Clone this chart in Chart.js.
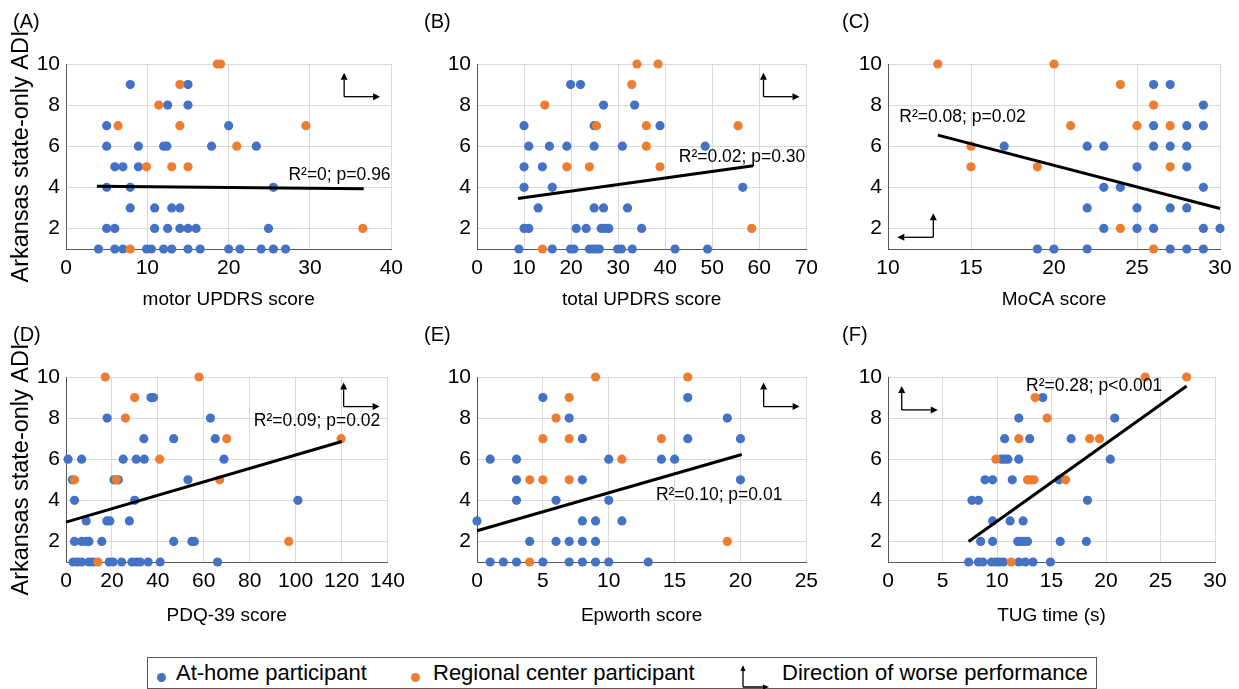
<!DOCTYPE html>
<html>
<head>
<meta charset="utf-8">
<title>ADI vs clinical scores</title>
<script src="https://cdn.jsdelivr.net/npm/chart.js@4.4.1/dist/chart.umd.min.js"></script>
<style>
  body { margin: 0; background: #fff; font-family: "Liberation Sans", Arial, sans-serif; }
  #wrap { position: relative; width: 1239px; height: 689px; overflow: hidden; }
  canvas { position: absolute; }
  .tag { position: absolute; font-size: 20px; line-height: 20px; color: #000; }
  #legend { position: absolute; left: 147px; top: 657px; width: 950px; height: 32px; box-sizing: border-box;
            border: 1px solid #595959; font-size: 22px; color: #000; }
  #legend span { position: absolute; white-space: nowrap; }
  #legend .dot { width: 9px; height: 9px; border-radius: 50%; }
</style>
</head>
<body>
<div id="wrap">
  <canvas id="chartA"></canvas>
  <canvas id="chartB"></canvas>
  <canvas id="chartC"></canvas>
  <canvas id="chartD"></canvas>
  <canvas id="chartE"></canvas>
  <canvas id="chartF"></canvas>
  <div class="tag" style="left:13px; top:11px">(A)</div>
  <div class="tag" style="left:424px; top:11px">(B)</div>
  <div class="tag" style="left:842px; top:11px">(C)</div>
  <div class="tag" style="left:13px; top:324px">(D)</div>
  <div class="tag" style="left:424px; top:324px">(E)</div>
  <div class="tag" style="left:842px; top:324px">(F)</div>
  <div id="legend">
    <span class="dot" style="left:9px; top:15px; background:#4472C4"></span>
    <span style="left:28px; top:2px">At-home participant</span>
    <span class="dot" style="left:263px; top:15px; background:#ED7D31"></span>
    <span style="left:285px; top:2px">Regional center participant</span>
    <span style="left:592px; top:6px">
      <svg width="32" height="26" viewBox="0 0 32 26">
        <path d="M3 23 V6 M3 23 H24" stroke="#000" stroke-width="1.3" fill="none"/>
        <path d="M3 1 L0.5 7 L5.5 7 Z M29 23 L23 20.5 L23 25.5 Z" fill="#000"/>
      </svg>
    </span>
    <span style="left:634px; top:2px">Direction of worse performance</span>
  </div>
</div>

<script>
const BLUE = "#4472C4";
const ORANGE = "#ED7D31";
const FONT = '"Liberation Sans", Arial, sans-serif';

// each row: [ADI value, score, score, ...]
const motorHome = [[9, 7.9, 15], [8, 12.5, 15], [7, 5, 20], [6, 5, 8.9, 12, 12.4, 17.9, 23.4], [5, 6, 7, 8.9],
  [4, 5, 7.9, 25.5], [3, 7.9, 10.9, 13, 14], [2, 5, 6, 10.9, 12.5, 14, 15, 16, 24.9],
  [1, 4, 6, 7, 9.9, 10.5, 12, 13, 15, 16.5, 20, 21.4, 24, 25.5, 27]];
const motorCenter = [[10, 18.6, 19], [9, 14], [8, 11.4], [7, 6.4, 14, 29.5], [6, 21], [5, 9.9, 13, 15], [2, 36.5], [1, 7.9]];
const motorTrend = [[3.8, 4.05], [36.6, 3.93]];

const totalHome = [[9, 19.9, 22], [8, 26.9, 33.5], [7, 10, 24.9, 38.9], [6, 11, 15.4, 19.1, 24.9, 30.9, 48.5],
  [5, 10, 13.9], [4, 10, 16, 56.5], [3, 13, 24.9, 26.9, 32], [2, 10, 11, 21.1, 23.2, 26.4, 27.2, 28, 35],
  [1, 8.9, 16, 19.9, 20.6, 23.9, 24.6, 25.4, 26, 29.9, 30.7, 33, 42.1, 49]];
const totalCenter = [[10, 34, 38.5], [9, 32.9], [8, 14.4], [7, 25.4, 36, 55.5], [6, 36], [5, 19.1, 23.9, 38.9], [2, 58.4], [1, 13.9]];
const totalTrend = [[8.7, 3.46], [58.7, 5.05]];

const mocaHome = [[9, 26, 27], [8, 29], [7, 26, 28, 29], [6, 17, 22, 23, 26, 27, 28], [5, 25, 28], [4, 23, 24, 29],
  [3, 22, 25, 27, 28], [2, 23, 25, 26, 29, 30], [1, 19, 20, 22, 27, 28, 29]];
const mocaCenter = [[10, 13, 20], [9, 24], [8, 26], [7, 21, 25, 27], [6, 15], [5, 15, 19, 27], [2, 24], [1, 26]];
const mocaTrend = [[13, 6.54], [30, 2.97]];

const pdqHome = [[9, 37, 38.1], [8, 17.9, 62.9], [7, 33.9, 46.9, 65], [6, 0.9, 6.8, 24.9, 30.6, 34.1, 68.8],
  [5, 2.8, 20.9, 22.8, 53.1], [4, 3.7, 29.9, 101], [3, 8.8, 17.8, 19.1, 27.6],
  [2, 3.7, 6.8, 8.8, 10, 15.6, 46.9, 54.8, 55.9],
  [1, 3.1, 5, 6.8, 10, 11.7, 18.8, 20.5, 24.2, 28.7, 30.6, 32.3, 35.8, 41, 66]];
const pdqCenter = [[10, 17.1, 57.9], [9, 29.9], [8, 25.9], [7, 70, 119.8], [6, 40.8], [5, 3.7, 21.9, 66.9], [2, 97], [1, 13.9]];
const pdqTrend = [[0, 2.94], [120.1, 6.86]];

const epworthHome = [[9, 5, 16], [8, 7, 19], [7, 8, 16, 20], [6, 1, 3, 10, 14, 15], [5, 3, 8, 20], [4, 3, 6, 10],
  [3, 0, 8, 9, 11], [2, 4, 6, 7, 8, 9], [1, 1, 2, 3, 5, 7, 8, 9, 10, 13]];
const epworthCenter = [[10, 9, 16], [9, 7], [8, 6], [7, 5, 7, 14], [6, 11], [5, 4, 5, 7], [2, 19], [1, 4]];
const epworthTrend = [[0, 2.52], [20.1, 6.23]];

const tugHome = [[9, 14.2], [8, 12, 20.8], [7, 10.7, 13, 16.8], [6, 10.4, 10.7, 11, 12, 20.4], [5, 8.9, 9.6, 11.4, 15.7],
  [4, 7.7, 8.3, 18.3], [3, 9.6, 11.2, 12.4], [2, 8.5, 9.6, 11.9, 12.2, 12.5, 12.8, 15.8, 18.2],
  [1, 7.4, 8.3, 8.7, 9.5, 9.9, 10.2, 10.6, 12, 12.6, 13.3, 14.9]];
const tugCenter = [[10, 23.6, 27.4], [9, 13.5], [8, 14.6], [7, 12, 18.5, 19.4], [6, 9.9], [5, 12.8, 13.1, 13.4, 16.3], [1, 11.3]];
const tugTrend = [[7.4, 2.0], [27.4, 9.56]];

const adiTicks = [2, 4, 6, 8, 10];
const yTitle = "Arkansas state-only ADI";

const panels = [
  { id: "chartA", home: motorHome, center: motorCenter, trend: motorTrend, xTitle: "motor UPDRS score",
    xMin: 0, xMax: 40, step: 10, note: "R²=0; p=0.96", at: [27.35, 4.6], corner: [34.2, 8.41], dir: 1,
    box: [0, 0, 410, 320], area: [66, 64, 397, 249], titleY: 300, showY: true },
  { id: "chartB", home: totalHome, center: totalCenter, trend: totalTrend, xTitle: "total UPDRS score",
    xMin: 0, xMax: 70, step: 10, note: "R²=0.02; p=0.30", at: [42.9, 5.48], corner: [60.9, 8.41], dir: 1,
    box: [410, 0, 415, 320], area: [477, 64, 809, 249], titleY: 300, showY: false },
  { id: "chartC", home: mocaHome, center: mocaCenter, trend: mocaTrend, xTitle: "MoCA score",
    xMin: 10, xMax: 30, step: 5, note: "R²=0.08; p=0.02", at: [10.68, 7.42], corner: [12.73, 1.57], dir: -1,
    box: [825, 0, 414, 320], area: [888, 64, 1220, 249], titleY: 300, showY: false },
  { id: "chartD", home: pdqHome, center: pdqCenter, trend: pdqTrend, xTitle: "PDQ-39 score",
    xMin: 0, xMax: 140, step: 20, note: "R²=0.09; p=0.02", at: [81.8, 7.87], corner: [120.9, 8.56], dir: 1,
    box: [0, 320, 412, 320], area: [66, 377, 394, 562], titleY: 616, showY: true },
  { id: "chartE", home: epworthHome, center: epworthCenter, trend: epworthTrend, xTitle: "Epworth score",
    xMin: 0, xMax: 25, step: 5, note: "R²=0.10; p=0.01", at: [13.58, 4.26], corner: [21.76, 8.56], dir: 1,
    box: [410, 320, 415, 320], area: [477, 377, 809, 562], titleY: 616, showY: false },
  { id: "chartF", home: tugHome, center: tugCenter, trend: tugTrend, xTitle: "TUG time (s)",
    xMin: 0, xMax: 30, step: 5, note: "R²=0.28; p<0.001", at: [12.66, 9.53], corner: [1.26, 8.4], dir: 1,
    box: [825, 320, 414, 320], area: [888, 377, 1215, 562], titleY: 616, showY: false },
];

const rowsToPoints = (rows) => {
  const pts = [];
  rows.forEach((row) => {
    for (let i = 1; i < row.length; i++) pts.push({ x: row[i], y: row[0] });
  });
  return pts;
};

const drawArrow = (ctx, x0, y0, x1, y1) => {
  const ang = Math.atan2(y1 - y0, x1 - x0);
  const head = 7;
  ctx.beginPath();
  ctx.moveTo(x0, y0);
  ctx.lineTo(x1 - Math.cos(ang) * head, y1 - Math.sin(ang) * head);
  ctx.stroke();
  ctx.beginPath();
  ctx.moveTo(x1, y1);
  ctx.lineTo(x1 - head * Math.cos(ang) + 3.5 * Math.sin(ang), y1 - head * Math.sin(ang) - 3.5 * Math.cos(ang));
  ctx.lineTo(x1 - head * Math.cos(ang) - 3.5 * Math.sin(ang), y1 - head * Math.sin(ang) + 3.5 * Math.cos(ang));
  ctx.closePath();
  ctx.fill();
};

// R² text and the "worse performance" arrows
const notesPlugin = {
  id: "notes",
  afterDatasetsDraw(chart, args, opts) {
    const { ctx, scales: { x, y } } = chart;
    ctx.save();
    ctx.fillStyle = "#000";
    ctx.strokeStyle = "#000";
    ctx.font = "17.5px " + FONT;
    ctx.textBaseline = "middle";
    ctx.fillText(opts.label, x.getPixelForValue(opts.at[0]), y.getPixelForValue(opts.at[1]));
    const cx = x.getPixelForValue(opts.corner[0]);
    const cy = y.getPixelForValue(opts.corner[1]);
    ctx.lineWidth = 1.3;
    drawArrow(ctx, cx, cy, cx, cy - 24);
    drawArrow(ctx, cx, cy, cx + opts.dir * 36, cy);
    ctx.restore();
  },
};

Chart.defaults.font.family = FONT;
Chart.defaults.color = "#000";

panels.forEach((p) => {
  const el = document.getElementById(p.id);
  const [left, top, w, h] = p.box;
  const [aL, aT, aR, aB] = p.area;
  el.width = w;
  el.height = h;
  el.style.left = left + "px";
  el.style.top = top + "px";

  new Chart(el, {
    type: "scatter",
    data: {
      datasets: [
        { data: p.trend.map((d) => ({ x: d[0], y: d[1] })), showLine: true, borderColor: "#000",
          borderWidth: 3, pointRadius: 0, order: -1, clip: false },
        { data: rowsToPoints(p.center), backgroundColor: ORANGE, borderWidth: 0, pointRadius: 4.6, clip: false },
        { data: rowsToPoints(p.home), backgroundColor: BLUE, borderWidth: 0, pointRadius: 4.6, clip: false },
      ],
    },
    options: {
      responsive: false,
      animation: false,
      devicePixelRatio: 1,
      layout: { padding: { top: aT - top, right: left + w - aR, left: 0, bottom: 0 } },
      plugins: {
        legend: { display: false },
        tooltip: { enabled: false },
        notes: { label: p.note, at: p.at, corner: p.corner, dir: p.dir },
      },
      scales: {
        x: {
          type: "linear",
          min: p.xMin,
          max: p.xMax,
          ticks: { stepSize: p.step, padding: 7, autoSkip: false, maxRotation: 0, font: { size: 21 } },
          grid: { color: "#d9d9d9", drawTicks: false },
          border: { color: "#595959" },
          title: { display: true, text: p.xTitle, font: { size: 19 },
                   padding: { top: 0, bottom: top + h - p.titleY - 11.4 } },
          afterFit: (s) => { s.height = top + h - aB; },
        },
        y: {
          min: 1,
          max: 10,
          afterBuildTicks: (s) => { s.ticks = adiTicks.map((v) => ({ value: v })); },
          ticks: { padding: 6, font: { size: 21 } },
          grid: { color: "#d9d9d9", drawTicks: false },
          border: { color: "#595959" },
          title: { display: p.showY, text: yTitle, font: { size: 23.5 }, padding: { top: 7, bottom: 0 } },
          afterFit: (s) => { s.width = aL - left; },
        },
      },
    },
    plugins: [notesPlugin],
  });
});
</script>
</body>
</html>
